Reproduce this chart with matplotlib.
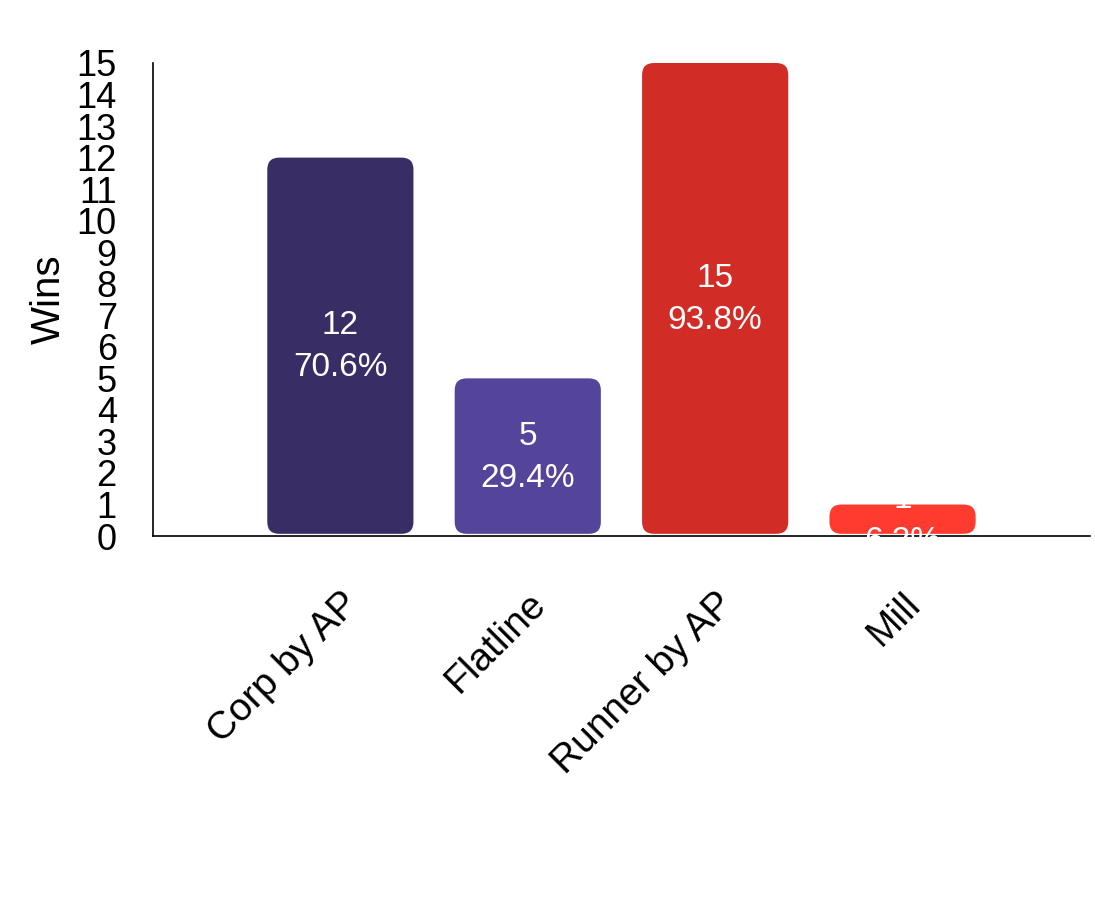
import matplotlib
matplotlib.use("Agg")
import matplotlib.pyplot as plt
from matplotlib.patches import FancyBboxPatch

plt.rcParams['font.family'] = ['Liberation Sans', 'DejaVu Sans']

categories = ["Corp by AP", "Flatline", "Runner by AP", "Mill"]
wins = [12, 5, 15, 1]
percents = ["70.6%", "29.4%", "93.8%", "6.2%"]
colors = ["#382D64", "#54449A", "#D12C26", "#FF3A2F"]
yticks = list(range(0, 16))

fig = plt.figure(figsize=(10.95, 9), dpi=100)
ax = fig.add_axes([0.1397, 0.4044, 0.8557, 0.5256])

bars = ax.bar(range(len(categories)), wins, width=0.78, color=colors)
r = 0.064
aspect = 5.9
for b, c in zip(bars, colors):
    x, y = b.get_x(), b.get_y()
    w, h = b.get_width(), b.get_height()
    b.set_visible(False)
    p = FancyBboxPatch((x, 0.07), w, h - 0.07,
                       boxstyle=f"round,pad=0,rounding_size={r}",
                       mutation_aspect=aspect, facecolor=c, edgecolor='none',
                       zorder=1)
    ax.add_patch(p)

for i, (v, pct) in enumerate(zip(wins, percents)):
    ax.text(i, v / 2, f"{v}\n{pct}", ha='center', va='center', color='white',
            fontsize=24, linespacing=1.45, zorder=3)

ax.set_xlim(-1, 4)
ax.set_ylim(0, 15)
ax.set_yticks(yticks)
ax.set_yticklabels([str(t) for t in yticks], fontsize=26)
ax.set_xticks(range(len(categories)))
ax.set_xticklabels(categories, fontsize=28, rotation=45, ha='right',
                   rotation_mode='anchor')
ax.tick_params(axis='both', length=0)
ax.tick_params(axis='y', pad=26)
ax.tick_params(axis='x', pad=36)
ax.set_ylabel("Wins", fontsize=29, labelpad=6)
ax.spines['top'].set_visible(False)
ax.spines['right'].set_visible(False)
ax.spines['left'].set_linewidth(1.2)
ax.spines['bottom'].set_linewidth(1.2)

fig.savefig("out.png", dpi=100)
